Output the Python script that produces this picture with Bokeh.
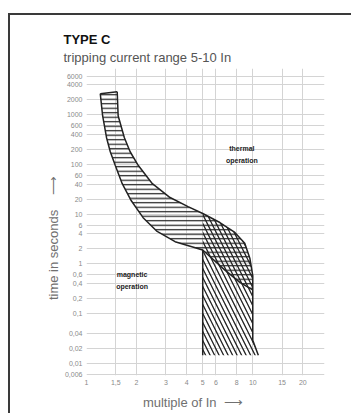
from bokeh.plotting import figure
from bokeh.models import FixedTicker, Title, Label
from bokeh.embed import file_html
from bokeh.resources import INLINE

# ---- data ----
x_ticks = [1, 1.5, 2, 3, 4, 5, 6, 8, 10, 15, 20]
x_tick_labels = ["1", "1,5", "2", "3", "4", "5", "6", "8", "10", "15", "20"]
y_ticks = [6000, 4000, 2000, 1000, 600, 400, 200, 100, 60, 40, 20, 10, 6, 4, 2, 1,
           0.6, 0.4, 0.2, 0.1, 0.04, 0.02, 0.01, 0.006]
y_tick_labels = ["6000", "4000", "2000", "1000", "600", "400", "200", "100", "60", "40",
                 "20", "10", "6", "4", "2", "1", "0,6", "0,4", "0,2", "0,1", "0,04",
                 "0,02", "0,01", "0,006"]

# thermal band - upper (max tripping time) curve, from top down
thermal_upper_x = [1.53, 1.55, 1.69, 1.83, 2.05, 2.49, 3.18, 4.08, 5.0, 6.34, 7.8, 8.95, 9.6, 10.0]
thermal_upper_t = [2900, 950, 345, 180, 95, 41, 21.6, 14.2, 10.3, 6.8, 4.3, 2.6, 1.3, 0.58]
# thermal band - lower (min tripping time) curve, from top down
thermal_lower_x = [1.21, 1.25, 1.32, 1.39, 1.49, 1.64, 1.86, 2.19, 2.66, 3.41, 5.0, 6.8, 8.4, 10.0]
thermal_lower_t = [2650, 955, 345, 180, 95, 41, 18.6, 8.5, 4.5, 2.8, 1.9, 0.75, 0.42, 0.3]

# magnetic release: 5 - 10 In
magnetic_min = 5.0
magnetic_max = 10.0
magnetic_bottom_t = 0.0146
magnetic_flare_t = 0.029
magnetic_flare_x = 10.8

p = figure(width=343, height=400, x_axis_type="log", y_axis_type="log",
           x_range=(1, 27), y_range=(0.0057, 8500),
           output_backend="svg", toolbar_location=None,
           min_border_left=76, min_border_right=29, min_border_top=53,
           min_border_bottom=40)
p.margin = (13, 0, 0, 8)
p.styles = {"border-left": "2px solid #3a3a3a", "border-top": "2px solid #3a3a3a"}
p.outline_line_color = None
p.background_fill_color = "white"
p.border_fill_color = "white"

# grid
p.xaxis.ticker = FixedTicker(ticks=x_ticks)
p.yaxis.ticker = FixedTicker(ticks=y_ticks)
p.xaxis.major_label_overrides = {t: l for t, l in zip(x_ticks, x_tick_labels)}
p.yaxis.major_label_overrides = {t: l for t, l in zip(y_ticks, y_tick_labels)}
p.grid.grid_line_color = "#d4d4d4"
p.grid.grid_line_width = 1
p.grid.minor_grid_line_color = None

for ax in (p.xaxis, p.yaxis):
    ax.axis_line_color = None
    ax.major_tick_line_color = None
    ax.minor_tick_line_color = None
    ax.major_tick_out = 0
    ax.major_tick_in = 0
    ax.minor_tick_out = 0
    ax.minor_tick_in = 0
    ax.major_label_text_font = "Liberation Sans"
    ax.major_label_text_font_size = "7px"
    ax.major_label_text_color = "#8a8a8a"
    ax.axis_label_text_font = "Liberation Sans"
    ax.axis_label_text_font_size = "13px"
    ax.axis_label_text_font_style = "normal"
    ax.axis_label_text_color = "#707070"
p.yaxis.major_label_standoff = 4
p.xaxis.major_label_standoff = 4
p.yaxis.axis_label = "time in seconds\u00a0\u00a0\u00a0\u00a0\u27f6" + "\u00a0" * 9
p.yaxis.axis_label_standoff = 1
p.xaxis.axis_label = "multiple of In\u00a0\u00a0\u27f6" + "\u00a0" * 7
p.xaxis.axis_label_standoff = 7

# titles
p.add_layout(Title(text="tripping current range 5-10 In", text_font="Liberation Sans",
                   text_font_size="13px", text_font_style="normal", text_color="#555555",
                   offset=-23, standoff=7), "above")
p.add_layout(Title(text="TYPE C", text_font="Liberation Sans", text_font_size="13px",
                   text_font_style="bold", text_color="#111111", offset=-23, standoff=-4),
             "above")

# thermal band polygon
band_x = thermal_upper_x + thermal_lower_x[::-1]
band_y = thermal_upper_t + thermal_lower_t[::-1]
p.patch(band_x, band_y, fill_alpha=0, line_alpha=0,
        hatch_pattern="horizontal_line", hatch_color="#222222", hatch_scale=4.5,
        hatch_weight=1.2)

# magnetic region polygon
i5 = thermal_upper_x.index(magnetic_min)
mag_x = [magnetic_min] + thermal_upper_x[i5:] + [magnetic_max, magnetic_flare_x]
mag_y = [magnetic_bottom_t] + thermal_upper_t[i5:] + [magnetic_flare_t, magnetic_bottom_t]
p.patch(mag_x, mag_y, fill_alpha=0, line_alpha=0,
        hatch_pattern="left_diagonal_line", hatch_color="#222222", hatch_scale=9,
        hatch_weight=1.3)

# outlines
p.line(thermal_upper_x + [magnetic_max, magnetic_flare_x],
       thermal_upper_t + [magnetic_flare_t, magnetic_bottom_t],
       line_color="#222222", line_width=1.5)
p.line(thermal_lower_x, thermal_lower_t, line_color="#222222", line_width=1.5)
p.line([thermal_lower_x[0], thermal_upper_x[0]], [thermal_lower_t[0], thermal_upper_t[0]],
       line_color="#222222", line_width=1.5)
j5 = thermal_lower_x.index(magnetic_min)
p.line([magnetic_min, magnetic_min], [thermal_lower_t[j5], magnetic_bottom_t],
       line_color="#222222", line_width=1.5)

# region labels
p.add_layout(Label(x=8.6, y=159, text="thermal\noperation", text_align="center",
                   text_baseline="middle", text_font="Liberation Sans",
                   text_font_size="7px", text_font_style="bold", text_color="#222222",
                   text_line_height=1.7))
p.add_layout(Label(x=1.88, y=0.46, text="magnetic\noperation", text_align="center",
                   text_baseline="middle", text_font="Liberation Sans",
                   text_font_size="7px", text_font_style="bold", text_color="#222222",
                   text_line_height=1.7))

open("out.html", "w").write(file_html(p, INLINE))
